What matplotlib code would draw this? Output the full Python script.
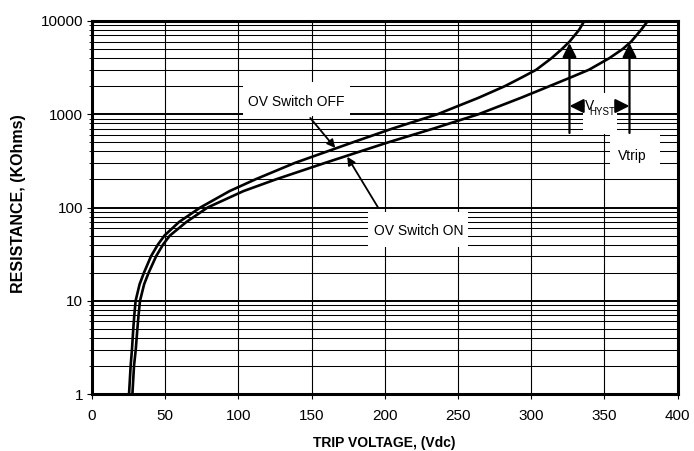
import numpy as np
import matplotlib
matplotlib.use("Agg")
import matplotlib.pyplot as plt
from matplotlib.patches import Rectangle
from matplotlib.ticker import LogLocator, NullFormatter, FixedLocator

plt.rcParams['font.family'] = ['Liberation Sans', 'DejaVu Sans']

# Trip voltage (Vdc) against programming resistance (KOhms)
r_off = [1, 2, 3, 5, 7, 10, 15, 20, 30, 40, 50, 70, 100, 150, 200, 300,
         500, 700, 1000, 1500, 2000, 2500, 3000, 4000, 5000, 6000, 8000,
         10000]
v_off = [25.3, 26.4, 27.3, 28.2, 28.9, 29.8, 32.5, 35.5, 40.3, 45.0, 49.5,
         59.5, 74, 94, 111.5, 138.4, 178.2, 205, 236, 264, 282, 294, 303.5,
         314, 321, 326.2, 332.7, 336.3]

r_on = [1, 2, 3, 5, 7, 10, 15, 20, 30, 40, 50, 70, 100, 150, 200, 300, 400,
        500, 700, 1000, 1500, 2000, 2500, 3000, 4000, 5000, 6000, 8000, 10000]
v_on = [27.6, 28.7, 29.9, 31.0, 31.8, 32.8, 35.6, 38.7, 43.8, 48.5, 53.2,
        64.5, 79, 103.5, 125.5, 159, 183.4, 202.4, 233, 264, 293, 312.5,
        327.5, 339.5, 353.5, 362.5, 368.3, 375, 379.7]

x_ticks = [0, 50, 100, 150, 200, 250, 300, 350, 400]
y_ticks = [1, 10, 100, 1000, 10000]
y_ticklabels = ['1', '10', '100', '1000', '10000']

# where the hysteresis arrows meet the curves
v_trip_off, v_trip_on = 326.2, 367.2
r_arrow_base, r_arrow_tip = 630, 5800
r_hyst = 1225

W, H = 694, 451
fig = plt.figure(figsize=(W/100, H/100), dpi=100)
ax = fig.add_axes([92/W, 1-394/H, 585.5/W, 373/H])

ax.set_xlim(0, 400)
ax.set_yscale('log')
ax.set_ylim(1, 10000)

# grid: every 50 V, every minor decade step
for v in x_ticks[1:-1]:
    ax.axvline(v, color='k', lw=0.8, zorder=1)
for dec in [1, 10, 100, 1000]:
    for k in range(2, 10):
        ax.axhline(dec*k, color='k', lw=0.75, zorder=1)
for r in y_ticks[1:-1]:
    ax.axhline(r, color='k', lw=1.4, zorder=1)

# white label boxes cut out of the grid, given in pixels
def knockout(x0, y0, x1, y1):
    ax.add_patch(Rectangle(((x0-92)/585.5, (394-y1)/373), (x1-x0)/585.5,
                           (y1-y0)/373, transform=ax.transAxes,
                           fc='white', ec='none', zorder=2))

knockout(243, 82, 350, 116)
knockout(368, 212, 468, 247)
knockout(583, 93, 617, 134)
knockout(610, 133, 660, 166)

ax.plot(v_off, r_off, color='k', lw=1.9, zorder=4, solid_capstyle='butt',
        solid_joinstyle='round')
ax.plot(v_on, r_on, color='k', lw=1.9, zorder=4, solid_capstyle='butt',
        solid_joinstyle='round')

fs = 10
ax.text(139.5, 1353, 'OV Switch OFF', fontsize=fs, ha='center',
        va='center', zorder=5)
ax.text(222.9, 56, 'OV Switch ON', fontsize=fs, ha='center', va='center',
        zorder=5)
ax.text(369.2, 357, 'Vtrip', fontsize=fs, ha='center', va='center',
        zorder=5)
ax.text(339.8, 1225, 'V', fontsize=fs, ha='center', va='center', zorder=5)
ax.text(348.7, 1057, 'HYST', fontsize=7, ha='center', va='center', zorder=5)

arrow = dict(arrowstyle='-|>', color='k', lw=1.3, mutation_scale=12,
             shrinkA=0, shrinkB=0)
ax.annotate('', xy=(166.2, 435), xytext=(149.1, 912), arrowprops=arrow,
            zorder=6)
ax.annotate('', xy=(174.4, 350), xytext=(195.6, 99), arrowprops=arrow,
            zorder=6)

big = dict(arrowstyle='-|>,head_length=0.6,head_width=0.3', color='k',
           lw=1.6, mutation_scale=14, shrinkA=0, shrinkB=0)
ax.annotate('', xy=(v_trip_off, r_arrow_tip), xytext=(v_trip_off, r_arrow_base),
            arrowprops=big, zorder=6)
ax.annotate('', xy=(v_trip_on, r_arrow_tip), xytext=(v_trip_on, r_arrow_base),
            arrowprops=big, zorder=6)
ax.annotate('', xy=(v_trip_off, r_hyst), xytext=(335.7, r_hyst),
            arrowprops=big, zorder=6)
ax.annotate('', xy=(v_trip_on, r_hyst), xytext=(359, r_hyst),
            arrowprops=big, zorder=6)

# axes, ticks, labels
for s in ax.spines.values():
    s.set_linewidth(2.2)
    s.set_zorder(7)
ax.xaxis.set_major_locator(FixedLocator(x_ticks))
ax.set_yticks(y_ticks)
ax.set_yticklabels(y_ticklabels)
ax.yaxis.set_minor_locator(LogLocator(base=10, subs=np.arange(2, 10)))
ax.yaxis.set_minor_formatter(NullFormatter())
ax.tick_params(axis='both', which='major', direction='out', length=3.5,
               width=0.8, labelsize=11, pad=3)
ax.tick_params(axis='x', which='major', pad=7)
ax.tick_params(axis='y', which='minor', direction='out', length=2, width=0.6)

fig.text(384.5/W, 1-443/H, 'TRIP VOLTAGE, (Vdc)', fontsize=10,
         fontweight='bold', ha='center', va='center')
fig.text(18.5/W, 1-204/H, 'RESISTANCE, (KOhms)', fontsize=11.5,
         fontweight='bold', ha='center', va='center', rotation=90)

fig.savefig('out.png', dpi=100)
